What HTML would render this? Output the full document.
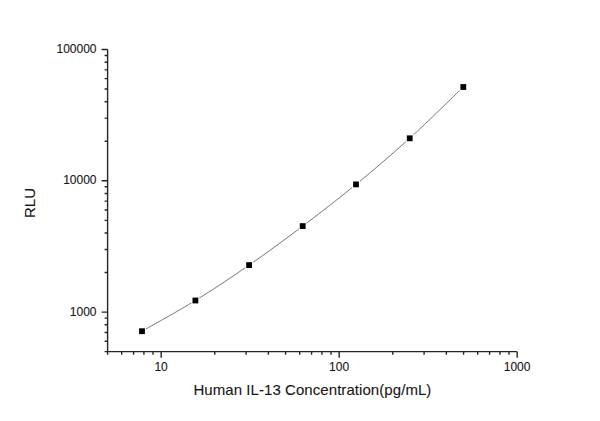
<!DOCTYPE html>
<html><head><meta charset="utf-8"><style>
html,body{margin:0;padding:0;background:#fff;width:600px;height:421px;overflow:hidden}
svg{display:block}
text{font-family:"Liberation Sans",sans-serif;fill:#161616;stroke:#161616;stroke-width:0.1px}
</style></head><body>
<svg width="600" height="421" viewBox="0 0 600 421">
<path d="M142.00 331.20C150.90 326.08 177.55 311.52 195.40 300.50C213.25 289.48 231.22 277.50 249.10 265.10C266.98 252.70 284.88 239.55 302.70 226.10C320.52 212.65 338.17 199.03 356.00 184.40C373.83 169.77 391.82 154.53 409.70 138.30C427.58 122.07 454.37 95.55 463.30 87.00" fill="none" stroke="#555" stroke-width="0.8"/>
<g fill="#000" stroke="#fff" stroke-width="2" paint-order="stroke"><rect x="139.10" y="328.30" width="5.8" height="5.8"/><rect x="192.50" y="297.60" width="5.8" height="5.8"/><rect x="246.20" y="262.20" width="5.8" height="5.8"/><rect x="299.80" y="223.20" width="5.8" height="5.8"/><rect x="353.10" y="181.50" width="5.8" height="5.8"/><rect x="406.80" y="135.40" width="5.8" height="5.8"/><rect x="460.40" y="84.10" width="5.8" height="5.8"/></g>
<path d="M107.60 49.50V351.63H517.18" fill="none" stroke="#262626" stroke-width="1.4"/>
<path d="M107.60 351.63V354.63M121.69 351.63V354.63M133.61 351.63V354.63M143.93 351.63V354.63M153.04 351.63V354.63M161.18 351.63V357.63M214.77 351.63V354.63M246.11 351.63V354.63M268.35 351.63V354.63M285.60 351.63V354.63M299.69 351.63V354.63M311.61 351.63V354.63M321.93 351.63V354.63M331.04 351.63V354.63M339.18 351.63V357.63M392.77 351.63V354.63M424.11 351.63V354.63M446.35 351.63V354.63M463.60 351.63V354.63M477.69 351.63V354.63M489.61 351.63V354.63M499.93 351.63V354.63M509.04 351.63V354.63M517.18 351.63V357.63M107.60 351.63H104.60M107.60 341.23H104.60M107.60 332.44H104.60M107.60 324.82H104.60M107.60 318.11H104.60M107.60 312.10H101.60M107.60 272.57H104.60M107.60 249.45H104.60M107.60 233.05H104.60M107.60 220.33H104.60M107.60 209.93H104.60M107.60 201.14H104.60M107.60 193.52H104.60M107.60 186.81H104.60M107.60 180.80H101.60M107.60 141.27H104.60M107.60 118.15H104.60M107.60 101.75H104.60M107.60 89.03H104.60M107.60 78.63H104.60M107.60 69.84H104.60M107.60 62.22H104.60M107.60 55.51H104.60M107.60 49.50H101.60" fill="none" stroke="#262626" stroke-width="1.4"/>
<g font-size="12" text-anchor="end">
<text x="96.5" y="53">100000</text>
<text x="96.5" y="183.8">10000</text>
<text x="96.5" y="316">1000</text>
</g>
<g font-size="12" text-anchor="middle">
<text x="161.1" y="371.2">10</text>
<text x="339.1" y="371.2">100</text>
<text x="517.1" y="371.2">1000</text>
</g>
<text x="312.4" y="395.3" font-size="15" letter-spacing="0.065" text-anchor="middle">Human IL-13 Concentration(pg/mL)</text>
<text transform="translate(34.9 203) rotate(-90)" font-size="15" text-anchor="middle">RLU</text>
</svg>
</body></html>
